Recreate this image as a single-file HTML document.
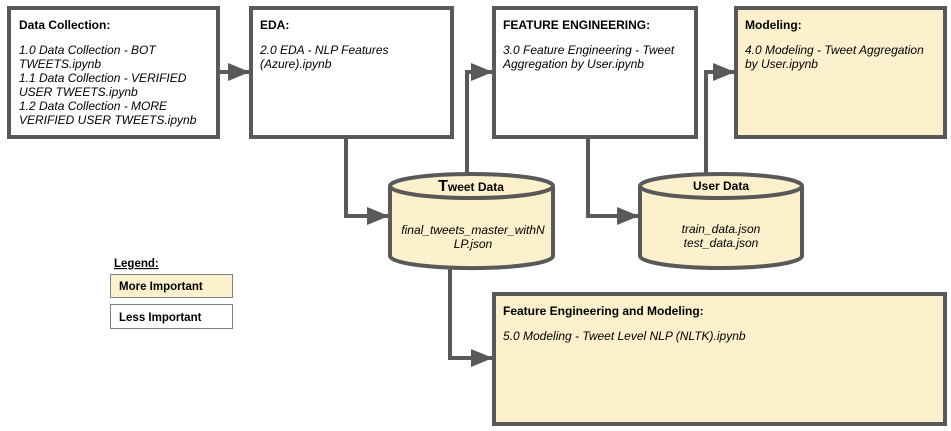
<!DOCTYPE html>
<html><head><meta charset="utf-8"><style>
html,body{margin:0;padding:0;background:#fff;}
svg{display:block;}
text{font-family:"Liberation Sans",Arial,sans-serif;font-size:12px;fill:#000;}
.b{font-weight:bold;}
.i{font-style:italic;}
.s{font-size:11.5px;}
</style></head><body>
<svg width="951" height="431" viewBox="0 0 951 431" xmlns="http://www.w3.org/2000/svg">
<defs>
<marker id="ah" markerWidth="22" markerHeight="18" refX="21" refY="9" orient="auto" markerUnits="userSpaceOnUse">
<path d="M0,0 L22,9 L0,18 z" fill="#595959"/>
</marker>
</defs>
<g fill="none" stroke="#595959" stroke-width="4" stroke-linejoin="miter">
<path d="M218,72 H249" marker-end="url(#ah)"/>
<path d="M346,137 V216 H388" marker-end="url(#ah)"/>
<path d="M467,175 V72 H492" marker-end="url(#ah)"/>
<path d="M588,137 V216 H638" marker-end="url(#ah)"/>
<path d="M706,175 V72 H734" marker-end="url(#ah)"/>
<path d="M450,268 V358 H492" marker-end="url(#ah)"/>
</g>
<g stroke="#595959" stroke-width="4">
<rect x="9" y="8" width="209" height="129" fill="#fff"/>
<rect x="251" y="8" width="201" height="129" fill="#fff"/>
<rect x="494" y="8" width="202" height="129" fill="#fff"/>
<rect x="736" y="8" width="209" height="129" fill="#fdf0cc"/>
<rect x="494" y="294" width="451" height="130" fill="#fdf0cc"/>
<path d="M390,186 V256 A81,12 0 0 0 553,256 V186" fill="#fdf0cc"/>
<ellipse cx="471.5" cy="186" rx="81.5" ry="12" fill="#fdf0cc"/>
<path d="M640,186 V256 A81,12 0 0 0 802,256 V186" fill="#fdf0cc"/>
<ellipse cx="721" cy="186" rx="81" ry="12" fill="#fdf0cc"/>
</g>
<g stroke="#808080" stroke-width="1">
<rect x="110.5" y="274.5" width="122" height="23" fill="#fdf0cc"/>
<rect x="110.5" y="304.5" width="122" height="24" fill="#fff"/>
</g>
<text x="19" y="29" class="b">Data Collection:</text>
<text x="19" y="54" class="i">1.0 Data Collection - BOT</text>
<text x="19" y="68" class="i">TWEETS.ipynb</text>
<text x="19" y="82" class="i">1.1 Data Collection - VERIFIED</text>
<text x="19" y="96" class="i">USER TWEETS.ipynb</text>
<text x="19" y="110" class="i">1.2 Data Collection - MORE</text>
<text x="19" y="124" class="i">VERIFIED USER TWEETS.ipynb</text>
<text x="260" y="29" class="b">EDA:</text>
<text x="260" y="54" class="i">2.0 EDA - NLP Features</text>
<text x="260" y="68" class="i">(Azure).ipynb</text>
<text x="503" y="29" class="b">FEATURE ENGINEERING:</text>
<text x="503" y="54" class="i">3.0 Feature Engineering - Tweet</text>
<text x="503" y="68" class="i">Aggregation by User.ipynb</text>
<text x="745" y="29" class="b">Modeling:</text>
<text x="745" y="54" class="i">4.0 Modeling - Tweet Aggregation</text>
<text x="745" y="68" class="i">by User.ipynb</text>
<text x="503" y="315" class="b">Feature Engineering and Modeling:</text>
<text x="503" y="340" class="i">5.0 Modeling - Tweet Level NLP (NLTK).ipynb</text>
<text x="471" y="191" class="b" text-anchor="middle"><tspan style="font-size:16px">T</tspan>weet Data</text>
<text x="473" y="234" class="i" text-anchor="middle">final_tweets_master_withN</text>
<text x="473" y="248" class="i" text-anchor="middle">LP.json</text>
<text x="721" y="190" class="b" text-anchor="middle">User Data</text>
<text x="721" y="233" class="i" text-anchor="middle">train_data.json</text>
<text x="721" y="247" class="i" text-anchor="middle">test_data.json</text>
<text x="114" y="267" class="b s" text-decoration="underline">Legend:</text>
<text x="119" y="290" class="b s">More Important</text>
<text x="119" y="321" class="b s">Less Important</text>
</svg>
</body></html>
